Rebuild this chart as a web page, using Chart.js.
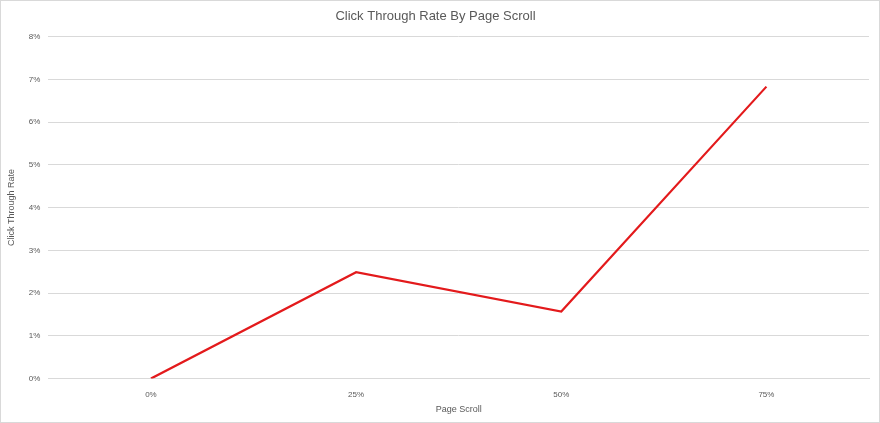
<!DOCTYPE html>
<html>
<head>
<script src="https://cdn.jsdelivr.net/npm/chart.js@4"></script>
<style>
  body { margin: 0; background: #fff; }
  #wrap { width: 878px; height: 421px; border: 1px solid #d9d9d9; }
</style>
</head>
<body>
<div id="wrap"><canvas id="chart" width="878" height="421"></canvas></div>
<script>
// Chart data
const categories = ['0%', '25%', '50%', '75%'];
const ctrValues = [0, 2.49, 1.57, 6.83];
const yTicks = [0, 1, 2, 3, 4, 5, 6, 7, 8];

const ctx = document.getElementById('chart').getContext('2d');
new Chart(ctx, {
    type: 'line',
    data: {
        labels: categories,
        datasets: [{
            data: ctrValues,
            borderColor: '#e31a1c',
            borderWidth: 2.2,
            pointRadius: 0,
            tension: 0,
            fill: false
        }]
    },
    options: {
        responsive: false,
        animation: false,
        layout: { padding: { left: 1, right: 10, top: 0, bottom: 3 } },
        plugins: {
            legend: { display: false },
            tooltip: { enabled: false },
            title: {
                display: true,
                text: 'Click Through Rate By Page Scroll',
                color: '#595959',
                font: { family: 'Liberation Sans', size: 13, weight: 'normal' },
                padding: { top: 8, bottom: 12 }
            }
        },
        scales: {
            x: {
                offset: true,
                grid: { display: false },
                border: { color: '#d9d9d9' },
                ticks: { color: '#595959', font: { family: 'Liberation Sans', size: 8 } },
                title: {
                    display: true,
                    text: 'Page Scroll',
                    color: '#595959',
                    font: { family: 'Liberation Sans', size: 9 },
                    padding: { top: 2 }
                }
            },
            y: {
                min: 0,
                max: 8,
                afterBuildTicks: axis => { axis.ticks = yTicks.map(v => ({ value: v })); },
                grid: { color: '#d9d9d9', drawTicks: false },
                border: { display: false },
                ticks: {
                    color: '#595959',
                    padding: 8,
                    font: { family: 'Liberation Sans', size: 8 },
                    callback: v => v + '%'
                },
                title: {
                    display: true,
                    text: 'Click Through Rate',
                    color: '#595959',
                    font: { family: 'Liberation Sans', size: 9 }
                }
            }
        }
    }
});
</script>
</body>
</html>
